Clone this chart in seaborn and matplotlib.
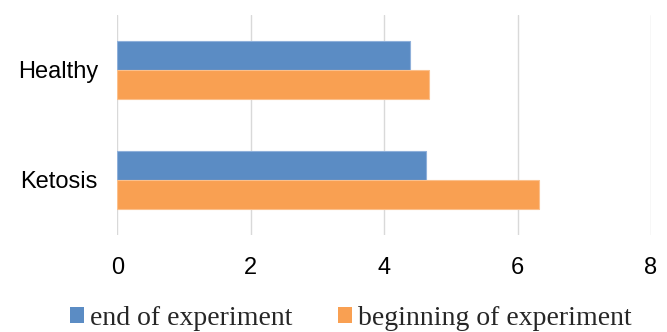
import matplotlib
matplotlib.use("Agg")
import matplotlib.pyplot as plt
import seaborn as sns
import pandas as pd

groups = ["Healthy", "Ketosis"]
series_names = ["end of experiment", "beginning of experiment"]
end_values = [4.38, 4.63]
beginning_values = [4.67, 6.32]
x_ticks = [0, 2, 4, 6, 8]

df = pd.DataFrame({
    "group": groups * 2,
    "series": [series_names[0]] * len(groups) + [series_names[1]] * len(groups),
    "value": end_values + beginning_values,
})

sns.set_theme(style="white")
plt.rcParams["font.family"] = ["Liberation Sans", "DejaVu Sans"]

fig = plt.figure(figsize=(6.67, 3.32), dpi=100)
ax = fig.add_axes([0.1759, 0.2922, 0.8001, 0.6627])

palette = {series_names[0]: "#5B8CC4", series_names[1]: "#F9A052"}
edges = {series_names[0]: "#8FB0DA", series_names[1]: "#FBC08C"}

sns.barplot(data=df, x="value", y="group", hue="series", order=groups,
            hue_order=series_names, palette=palette, orient="h",
            width=0.52, ax=ax, legend=False, saturation=1)

for container, name in zip(ax.containers, series_names):
    for bar in container:
        bar.set_edgecolor(edges[name])
        bar.set_linewidth(0.8)

ax.set_xlim(0, 8)
ax.set_ylim(1.5, -0.5)
ax.set_xticks(x_ticks)
ax.set_xticklabels([str(t) for t in x_ticks])
ax.xaxis.grid(True, color="#D9D9D9", linewidth=1.0)
ax.yaxis.grid(False)
ax.set_axisbelow(True)
for s in ax.spines.values():
    s.set_visible(False)
ax.set_xlabel("")
ax.set_ylabel("")
ax.tick_params(axis="x", length=0, pad=16, labelsize=17, colors="black")
ax.tick_params(axis="y", length=0, pad=14, labelsize=17, colors="black")

handles = [plt.Rectangle((0, 0), 1, 1, facecolor=palette[n], edgecolor="none")
           for n in series_names]
fig.legend(handles, series_names, loc="center", bbox_to_anchor=(0.526, 0.042),
           ncol=2, frameon=False, handlelength=0.5, handleheight=0.5,
           handletextpad=0.2, columnspacing=1.65, borderpad=0, borderaxespad=0,
           prop={"family": "Liberation Serif", "size": 20})

fig.savefig("out.png", dpi=100)
